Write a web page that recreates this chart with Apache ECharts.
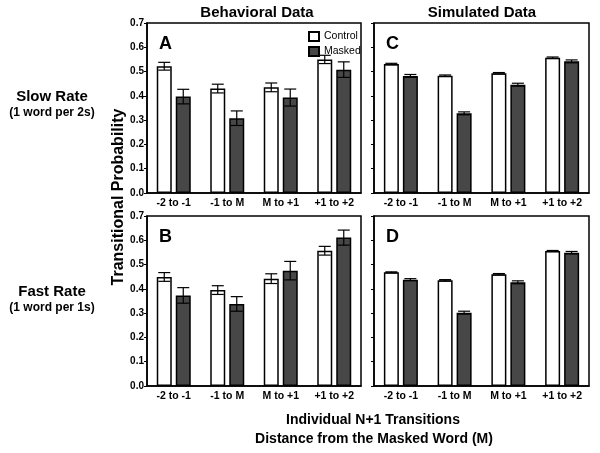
<!DOCTYPE html>
<html><head><meta charset="utf-8">
<script src="https://cdn.jsdelivr.net/npm/echarts@6/dist/echarts.min.js"></script>
<style>html,body{margin:0;padding:0;background:#fff}#c{width:600px;height:453px}</style>
</head><body><div id="c"></div>
<script>
const categories = ['-2 to -1', '-1 to M', 'M to +1', '+1 to +2'];
const yTicks = [0.0, 0.1, 0.2, 0.3, 0.4, 0.5, 0.6, 0.7];

// Panel A: Behavioral, slow rate
const A_control = [0.522, 0.430, 0.435, 0.550];
const A_controlErr = [0.016, 0.018, 0.018, 0.017];
const A_masked = [0.397, 0.308, 0.393, 0.508];
const A_maskedErr = [0.030, 0.030, 0.035, 0.032];
// Panel B: Behavioral, fast rate
const B_control = [0.449, 0.395, 0.442, 0.557];
const B_controlErr = [0.018, 0.018, 0.020, 0.018];
const B_masked = [0.373, 0.338, 0.475, 0.611];
const B_maskedErr = [0.032, 0.030, 0.038, 0.031];
// Panel C: Simulated, slow rate
const C_control = [0.531, 0.483, 0.493, 0.557];
const C_controlErr = [0.003, 0.003, 0.003, 0.003];
const C_masked = [0.482, 0.328, 0.446, 0.542];
const C_maskedErr = [0.006, 0.006, 0.006, 0.006];
// Panel D: Simulated, fast rate
const D_control = [0.468, 0.435, 0.460, 0.556];
const D_controlErr = [0.002, 0.003, 0.003, 0.002];
const D_masked = [0.438, 0.302, 0.427, 0.549];
const D_maskedErr = [0.004, 0.006, 0.006, 0.005];

const FONT = 'Liberation Sans, Arial, sans-serif';
const BW = 15, GAP = 4;

const panels = [
  {name:'A', c:A_control, ce:A_controlErr, m:A_masked, me:A_maskedErr, grid:{left:147, top:23, width:214, height:170}, labels:true},
  {name:'C', c:C_control, ce:C_controlErr, m:C_masked, me:C_maskedErr, grid:{left:374, top:23, width:215, height:170}, labels:false},
  {name:'B', c:B_control, ce:B_controlErr, m:B_masked, me:B_maskedErr, grid:{left:147, top:216, width:214, height:170}, labels:true},
  {name:'D', c:D_control, ce:D_controlErr, m:D_masked, me:D_maskedErr, grid:{left:374, top:216, width:215, height:170}, labels:false}
];

const grids = [], xAxes = [], yAxes = [], series = [], graphics = [];
panels.forEach((p, i) => {
  grids.push(Object.assign({show:true, borderColor:'#000', borderWidth:1.5, backgroundColor:'#fff'}, p.grid));
  xAxes.push({type:'category', gridIndex:i, data:categories,
    axisLine:{lineStyle:{color:'#000', width:1.5}}, axisTick:{show:false},
    axisLabel:{color:'#000', fontFamily:FONT, fontWeight:'bold', fontSize:10.5, margin:5}});
  yAxes.push({type:'value', gridIndex:i, min:0, max:0.7, interval:0.1,
    axisLine:{show:true, lineStyle:{color:'#000', width:1.5}},
    axisTick:{show:true, length:3, lineStyle:{color:'#000'}},
    splitLine:{show:false},
    axisLabel:{show:p.labels, color:'#000', fontFamily:FONT, fontWeight:'bold', fontSize:10, margin:3,
      formatter: v => v.toFixed(1)}});
  series.push({name:'Control', type:'bar', xAxisIndex:i, yAxisIndex:i, data:p.c, barWidth:BW, barGap:(GAP/BW*100)+'%',
    itemStyle:{color:'#fff', borderColor:'#000', borderWidth:1.5}, z:2});
  series.push({name:'Masked', type:'bar', xAxisIndex:i, yAxisIndex:i, data:p.m, barWidth:BW, barGap:(GAP/BW*100)+'%',
    itemStyle:{color:'#474747', borderColor:'#000', borderWidth:1.5}, z:2});
  [[p.c, p.ce, -1], [p.m, p.me, 1]].forEach(([vals, errs, side]) => {
    series.push({type:'custom', xAxisIndex:i, yAxisIndex:i, z:5, silent:true,
      data: vals.map((v, k) => [k, v, errs[k]]),
      renderItem: (params, api) => {
        const k = api.value(0), v = api.value(1), e = api.value(2);
        const base = api.coord([k, v]);
        const x = base[0] + side * (GAP / 2 + BW / 2);
        const yTop = api.coord([k, v + e])[1];
        const yBot = api.coord([k, v - e])[1];
        const cw = 6;
        const st = {stroke:'#000', lineWidth:1.2};
        return {type:'group', children:[
          {type:'line', shape:{x1:x, y1:yTop, x2:x, y2:yBot}, style:st},
          {type:'line', shape:{x1:x-cw, y1:yTop, x2:x+cw, y2:yTop}, style:st},
          {type:'line', shape:{x1:x-cw, y1:yBot, x2:x+cw, y2:yBot}, style:st}
        ]};
      }});
  });
  graphics.push({type:'text', left:p.grid.left + 12, top:p.grid.top + 12,
    style:{text:p.name, font:'bold 18px ' + FONT, fill:'#000'}});
});

const t = (text, x, y, size, align) => ({type:'text', x:x, y:y,
  style:{text:text, font:'bold ' + size + 'px ' + FONT, fill:'#000', textAlign:align || 'center', textVerticalAlign:'middle'}});
graphics.push(t('Behavioral Data', 257, 13, 15));
graphics.push(t('Simulated Data', 482, 13, 15));
graphics.push(t('Slow Rate', 52, 97, 15));
graphics.push(t('(1 word per 2s)', 52, 113, 12));
graphics.push(t('Fast Rate', 52, 292, 15));
graphics.push(t('(1 word per 1s)', 52, 308, 12));
graphics.push(t('Individual N+1 Transitions', 373, 420, 14));
graphics.push(t('Distance from the Masked Word (M)', 374, 439, 14));
graphics.push({type:'text', x:119, y:197, rotation:Math.PI/2,
  style:{text:'Transitional Probability', font:'bold 16px ' + FONT, fill:'#000', textAlign:'center', textVerticalAlign:'middle'}});

const chart = echarts.init(document.getElementById('c'), null, {renderer:'canvas'});
chart.setOption({
  animation:false,
  grid:grids, xAxis:xAxes, yAxis:yAxes, series:series, graphic:graphics,
  legend:{data:[{name:'Control', icon:'rect'},{name:'Masked', icon:'rect'}], orient:'vertical', left:303, top:26,
    itemWidth:10, itemHeight:9, itemGap:4,
    textStyle:{fontFamily:FONT, fontSize:10.5, color:'#000'}, selectedMode:false}
});
</script></body></html>
